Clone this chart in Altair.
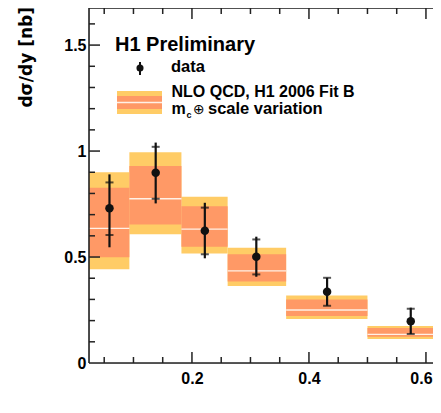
import altair as alt
import pandas as pd

# ---- data ----
bin_lo = [0.02, 0.093, 0.182, 0.261, 0.361, 0.5]
bin_hi = [0.093, 0.182, 0.261, 0.361, 0.5, 0.65]
outer_lo = [0.442, 0.607, 0.517, 0.363, 0.208, 0.113]
outer_hi = [0.900, 0.994, 0.785, 0.544, 0.319, 0.175]
inner_lo = [0.499, 0.654, 0.549, 0.384, 0.222, 0.124]
inner_hi = [0.827, 0.930, 0.740, 0.513, 0.300, 0.165]
theory = [0.635, 0.775, 0.632, 0.435, 0.250, 0.135]

data_x = [0.059, 0.138, 0.222, 0.310, 0.431, 0.574]
data_y = [0.730, 0.898, 0.624, 0.501, 0.336, 0.197]
stat_lo = [0.604, 0.775, 0.513, 0.418, 0.270, 0.137]
stat_hi = [0.852, 1.020, 0.733, 0.583, 0.402, 0.256]
tot_lo = [0.546, 0.753, 0.494, 0.407, 0.270, 0.137]
tot_hi = [0.890, 1.040, 0.756, 0.596, 0.402, 0.261]

x_major = [0.2, 0.4, 0.6]
x_minor = [0.05, 0.1, 0.15, 0.25, 0.3, 0.35, 0.45, 0.5, 0.55]
y_major = [0.5, 1.0, 1.5]
y_minor = [0.1, 0.2, 0.3, 0.4, 0.6, 0.7, 0.8, 0.9, 1.1, 1.2, 1.3, 1.4, 1.6]

y_title = "dσ/dy [nb]"
leg_title = "H1 Preliminary"
leg_data = "data"
leg_nlo1 = "NLO QCD, H1 2006 Fit B"
leg_nlo2a = "m"
leg_nlo2b = "c"
leg_nlo2c = "⊕"
leg_nlo2d = "scale variation"

# ---- layout ----
W, H = 344, 355
X_MIN = 0.024
X_MAX = X_MIN + W / 585.0
FONT = "Liberation Sans"
C_OUT = "#FFCC66"
C_IN = "#FF9966"
INK = "#111111"
AX = "#222222"

bands = pd.DataFrame(dict(lo=bin_lo, hi=bin_hi, olo=outer_lo, ohi=outer_hi,
                          ilo=inner_lo, ihi=inner_hi, th=theory))
pts = pd.DataFrame(dict(x=data_x, y=data_y, slo=stat_lo, shi=stat_hi,
                        tlo=tot_lo, thi=tot_hi))

xscale = alt.Scale(domain=[X_MIN, X_MAX], nice=False, zero=False)
yscale = alt.Scale(domain=[0, 1.675], nice=False, zero=False)
xaxis = alt.Axis(values=x_major, format="~g", ticks=False, domain=False, grid=False,
                 labelFont=FONT, labelFontSize=16, labelFontWeight="bold",
                 labelColor="black", labelPadding=7, labelBound=False,
                 labelOffset={"condition": {"test": "datum.value > 0.59", "value": -5}, "value": 0},
                 title=None)
yaxis = alt.Axis(values=[0] + y_major, format="~g", ticks=False, domain=False, grid=False,
                 labelFont=FONT, labelFontSize=16, labelFontWeight="bold",
                 labelColor="black", labelPadding=3, title=None)


def X(f, **kw):
    return alt.X(f, type="quantitative", scale=xscale, axis=xaxis, **kw)


def Y(f, **kw):
    return alt.Y(f, type="quantitative", scale=yscale, axis=yaxis, **kw)


base = alt.Chart(bands)
outer = base.mark_rect(color=C_OUT, clip=True).encode(
    x=X("lo"), x2="hi", y=Y("olo"), y2="ohi")
inner = base.mark_rect(color=C_IN, clip=True).encode(
    x=X("lo"), x2="hi", y=Y("ilo"), y2="ihi")
cline = base.mark_rule(color="#FFF1E6", strokeWidth=1.3, clip=True).encode(
    x=X("lo"), x2="hi", y=Y("th"))

pbase = alt.Chart(pts)
totbar = pbase.mark_rule(color=INK, strokeWidth=2.2).encode(
    x=X("x"), y=Y("tlo"), y2="thi")
cap_lo = pbase.mark_tick(color=INK, orient="horizontal", size=8, thickness=2).encode(
    x=X("x"), y=Y("slo"))
cap_hi = pbase.mark_tick(color=INK, orient="horizontal", size=8, thickness=2).encode(
    x=X("x"), y=Y("shi"))
dots = pbase.mark_circle(color=INK, size=72, opacity=1).encode(
    x=X("x"), y=Y("y"))

# axis frame lines and inward ticks (ROOT style)
one = alt.Data(values=[{"a": 1}])
line_style = dict(color=AX, strokeWidth=1.6)
frame = [
    alt.Chart(one).mark_rule(**line_style).encode(x=alt.value(0), x2=alt.value(W), y=alt.value(0)),
    alt.Chart(one).mark_rule(**line_style).encode(x=alt.value(0), x2=alt.value(W), y=alt.value(H)),
    alt.Chart(one).mark_rule(**line_style).encode(x=alt.value(0), y=alt.value(0), y2=alt.value(H)),
]
xmaj = pd.DataFrame({"v": x_major})
xmin = pd.DataFrame({"v": x_minor})
ymaj = pd.DataFrame({"v": y_major})
ymin = pd.DataFrame({"v": y_minor})
tick_style = dict(color=AX, strokeWidth=1.5)
ticks = [
    alt.Chart(xmaj).mark_rule(**tick_style).encode(x=X("v"), y=alt.value(H), y2=alt.value(H - 11)),
    alt.Chart(xmin).mark_rule(**tick_style).encode(x=X("v"), y=alt.value(H), y2=alt.value(H - 6)),
    alt.Chart(xmaj).mark_rule(**tick_style).encode(x=X("v"), y=alt.value(0), y2=alt.value(11)),
    alt.Chart(xmin).mark_rule(**tick_style).encode(x=X("v"), y=alt.value(0), y2=alt.value(6)),
    alt.Chart(ymaj).mark_rule(**tick_style).encode(y=Y("v"), x=alt.value(0), x2=alt.value(11)),
    alt.Chart(ymin).mark_rule(**tick_style).encode(y=Y("v"), x=alt.value(0), x2=alt.value(6)),
]


def txt(s, x, y, size=16, font=FONT, weight="bold", **kw):
    return alt.Chart(one).mark_text(text=s, font=font, fontSize=size, fontWeight=weight,
                                    align=kw.pop("align", "left"),
                                    baseline=kw.pop("baseline", "alphabetic"),
                                    color="black", **kw).encode(x=alt.value(x), y=alt.value(y))


legend = [
    txt(y_title, -62, -1, size=17, font="DejaVu Sans", angle=270, align="right", baseline="middle"),
    txt(leg_title, 26, 43, size=20),
    alt.Chart(one).mark_rule(color=INK, strokeWidth=2).encode(
        x=alt.value(51), y=alt.value(54), y2=alt.value(67)),
    alt.Chart(one).mark_circle(color=INK, size=50, opacity=1).encode(
        x=alt.value(51), y=alt.value(60)),
    txt(leg_data, 82, 64, size=16.5),
    alt.Chart(one).mark_rect(color=C_OUT).encode(
        x=alt.value(28), x2=alt.value(73), y=alt.value(83), y2=alt.value(106)),
    alt.Chart(one).mark_rect(color=C_IN).encode(
        x=alt.value(28), x2=alt.value(73), y=alt.value(88), y2=alt.value(101)),
    alt.Chart(one).mark_rule(color="#FFF1E6", strokeWidth=1.3).encode(
        x=alt.value(28), x2=alt.value(73), y=alt.value(94.5)),
    txt(leg_nlo1, 82.5, 88.5),
    txt(leg_nlo2a, 82.5, 106),
    txt(leg_nlo2b, 97.5, 109.5, size=9),
    txt(leg_nlo2c, 104, 106, size=14, font="DejaVu Sans", weight="normal"),
    txt(leg_nlo2d, 119, 106, size=16.5),
]

chart = alt.layer(outer, inner, cline, totbar, cap_lo, cap_hi, dots, *frame, *ticks, *legend).properties(
    width=W, height=H, autosize="none",
    padding={"left": 81, "top": 0, "right": 0, "bottom": 42},
).configure_view(stroke=None).configure(background="white")

chart.save("out.html", embed_options={"renderer": "svg", "actions": False})
